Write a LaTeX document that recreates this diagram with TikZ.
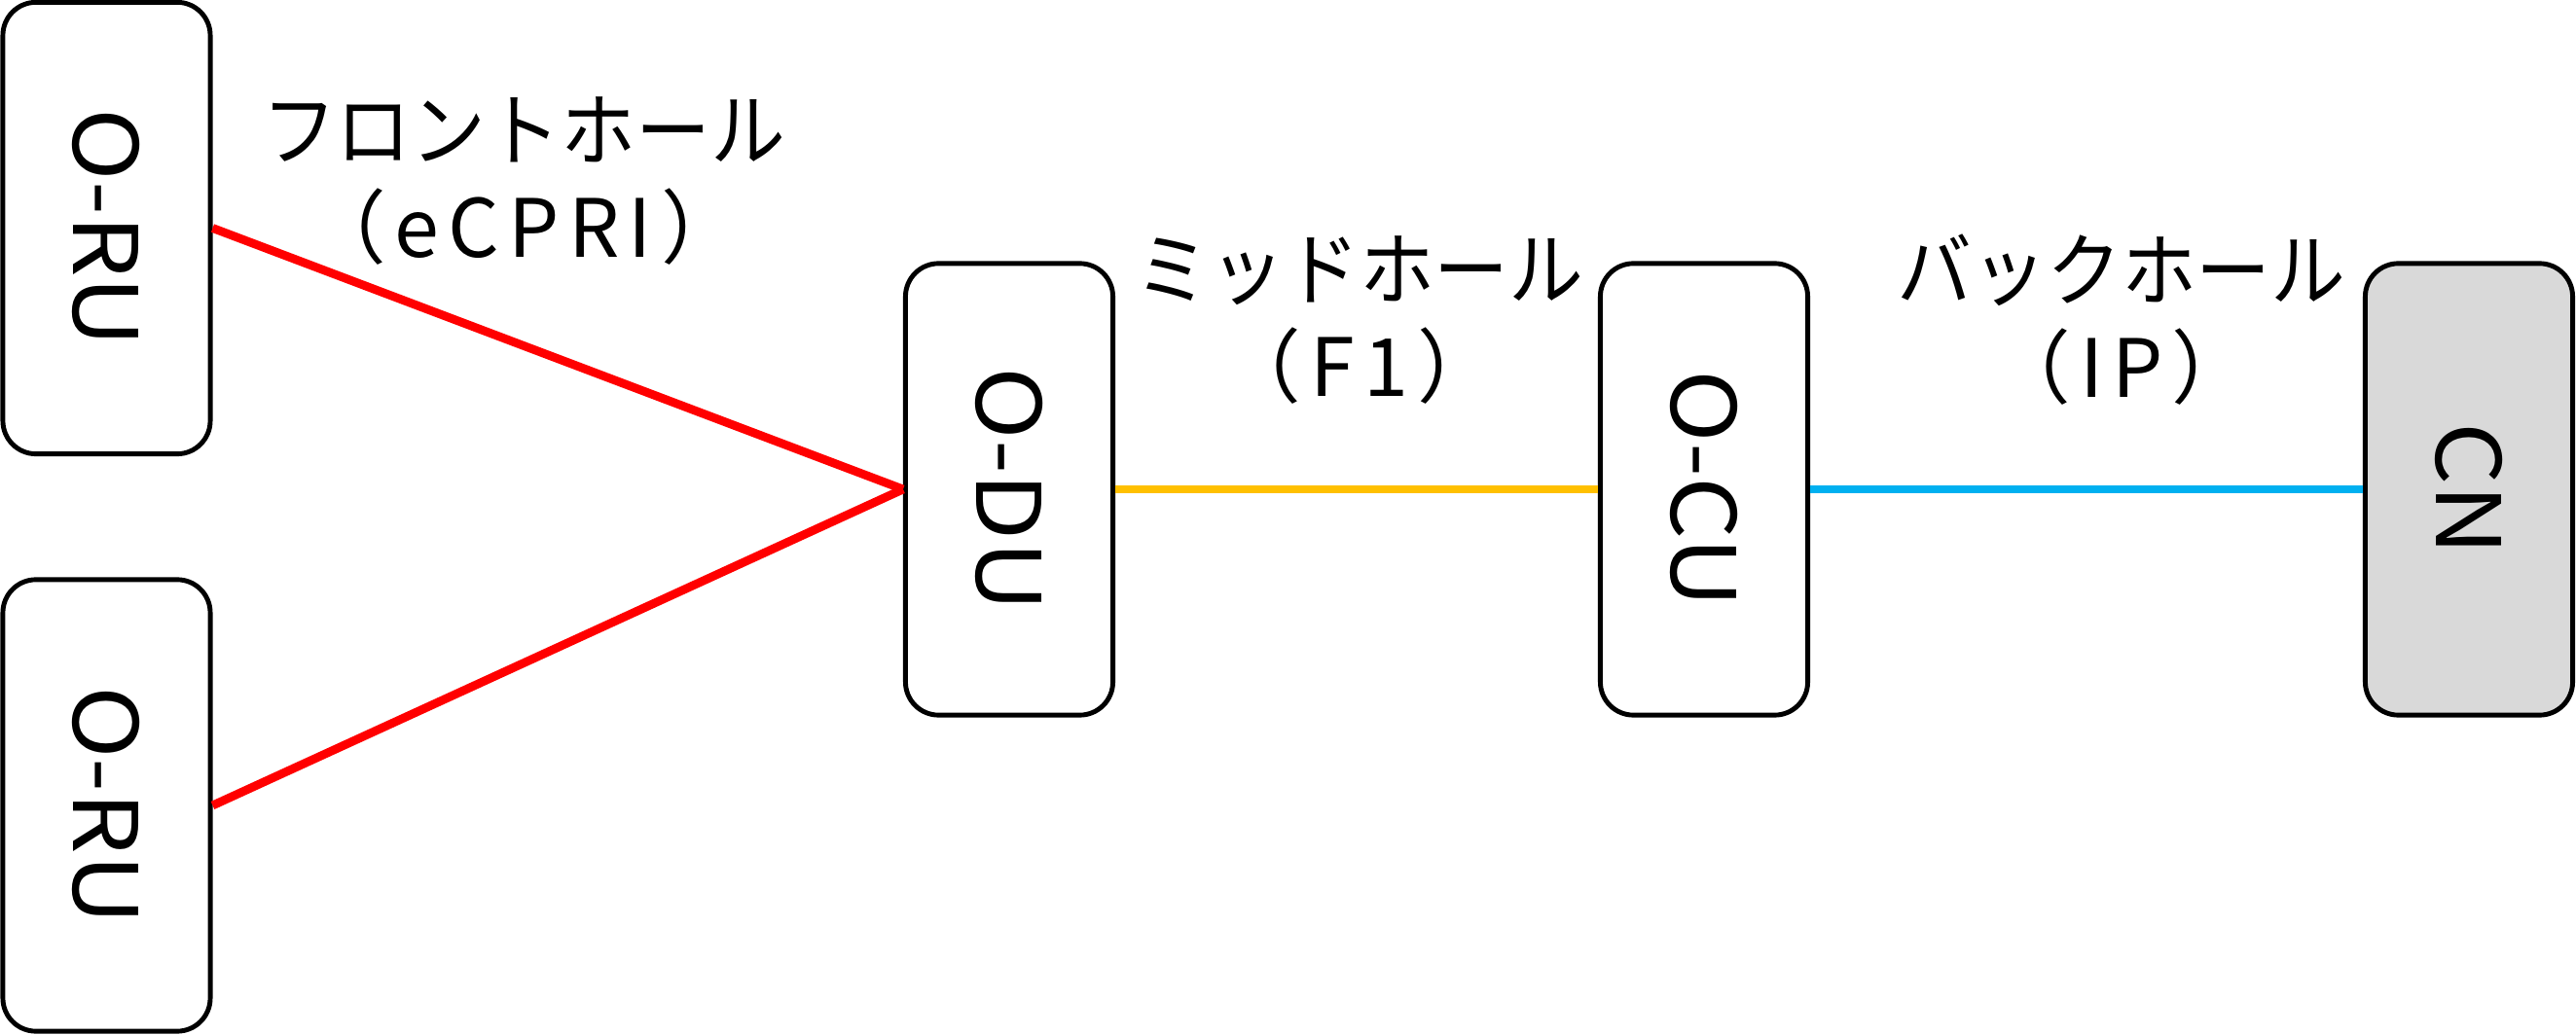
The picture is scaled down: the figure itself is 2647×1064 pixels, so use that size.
\documentclass[tikz,border=0pt]{standalone}
\usepackage{fontspec}
\setmainfont{Noto Sans CJK JP}
\newfontfamily\unitfont[FakeStretch=1.1]{Noto Sans CJK JP}
\newfontfamily\haulkana[FakeStretch=0.93]{Noto Sans CJK JP}
\newfontfamily\haulproto[LetterSpace=11]{Noto Sans CJK JP}
\usetikzlibrary{positioning}
\definecolor{fhred}{HTML}{FF0000}
\definecolor{mhyellow}{HTML}{FFC000}
\definecolor{bhblue}{HTML}{00B0F0}
\definecolor{cngray}{HTML}{D9D9D9}
\newcommand{\haullabel}[2]{{\haulkana #1}\\{\haulproto #2}}
\tikzset{
  unit/.style={draw, rounded corners=0.34cm, line width=1.4pt,
    minimum width=2.13cm, minimum height=4.64cm, inner sep=0pt,
    font=\unitfont\fontsize{26}{30}\selectfont},
  haul/.style={align=center, font=\fontsize{23.5}{28.5}\selectfont},
  link/.style={line width=2.5pt}
}
\begin{document}
\begin{tikzpicture}[x=0.01cm, y=-0.01cm]
	\useasboundingbox (0,0) rectangle (2647,1064);
	\node[unit] (ru1) at (109.5,234.5) {\rotatebox{-90}{O-RU}};
	\node[unit] (ru2) at (109.5,828) {\rotatebox{-90}{O-RU}};
	\node[unit] (du) at (1037,503) {\rotatebox{-90}{O-DU}};
	\node[unit] (cu) at (1751,503) {\rotatebox{-90}{O-CU}};
	\node[unit, fill=cngray] (cn) at (2537,503) {\rotatebox{-90}{CN}};
	\draw[link, color=fhred] (ru1.east) -- (du.west);
	\draw[link, color=fhred] (ru2.east) -- (du.west);
	\draw[link, color=mhyellow] (du.east) -- (cu.west);
	\draw[link, color=bhblue] (cu.east) -- (cn.west);
	\node[haul] (fh) at (538,186) {\haullabel{フロントホール}{（eCPRI）}};
	\node[haul] (mh) at (1397,329) {\haullabel{ミッドホール}{（F1）}};
	\node[haul] (bh) at (2180,329) {\haullabel{バックホール}{（IP）}};
\end{tikzpicture}
\end{document}
